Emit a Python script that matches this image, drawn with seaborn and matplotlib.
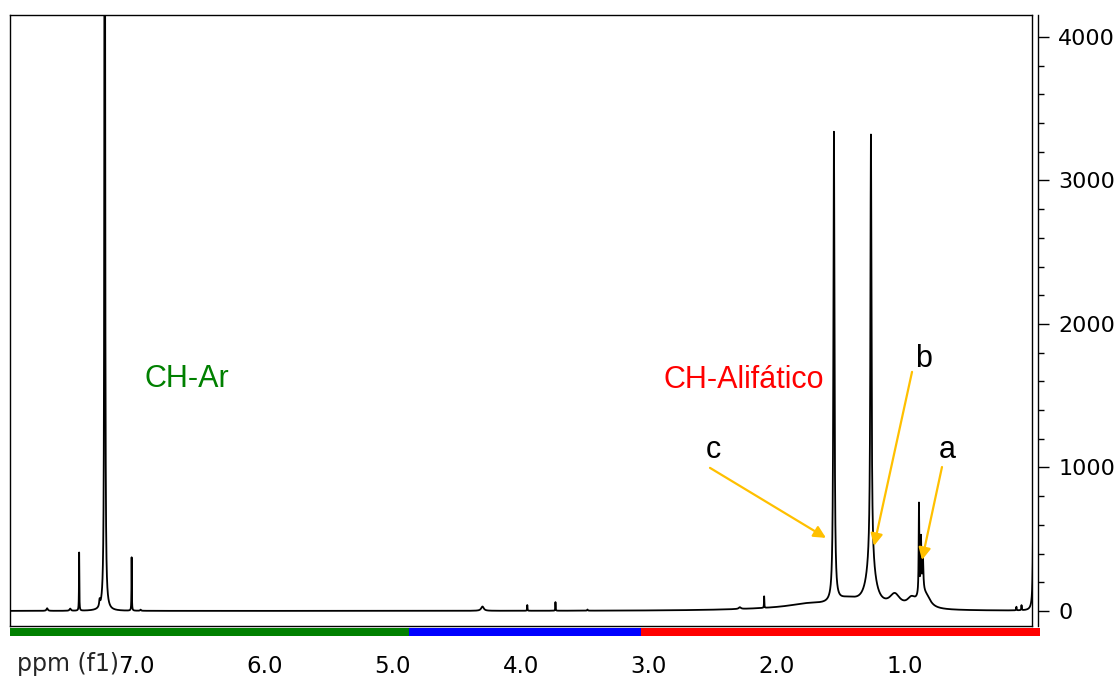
import numpy as np
import pandas as pd
import matplotlib
matplotlib.use('Agg')
import matplotlib.pyplot as plt
import seaborn as sns
from matplotlib.ticker import MultipleLocator, FixedLocator, FixedFormatter

sns.set_style('white')
plt.rcParams['font.family'] = ['DejaVu Sans']

# sharp lines: position (ppm), height, half width (ppm)
peak_ppm = [7.70, 7.52, 7.45, 7.29, 7.25, 7.04, 6.97, 4.30, 3.95, 3.73, 3.48,
            2.29, 2.10, 1.555, 1.266, 0.891, 0.875, 0.860, 0.13, 0.09, -0.005]
peak_height = [18, 15, 405, 45, 9000, 372, 8, 30, 40, 60, 8,
               12, 80, 3274, 2985, 620, 350, 220, 25, 35, 1500]
peak_width = [0.006, 0.006, 0.0015, 0.004, 0.0028, 0.0015, 0.004, 0.012, 0.0015, 0.0015, 0.003,
              0.01, 0.0015, 0.005, 0.005, 0.0025, 0.003, 0.004, 0.002, 0.002, 0.004]

# broad envelope under the aliphatic region
broad_ppm = [2.0, 1.75, 1.45, 1.266, 1.08, 0.95, 0.87, 0.83]
broad_height = [10, 35, 60, 300, 90, 60, 100, 60]
broad_width = [0.5, 0.2, 0.12, 0.04, 0.05, 0.04, 0.03, 0.04]

# coloured bar under the axis
region_start = [7.99, 4.875, 3.064]
region_end = [4.875, 3.064, -0.055]
region_color = ['#008000', '#0000ff', '#ff0000']

# x tick labels
xtick_pos = [7.0, 6.0, 5.0, 4.0, 3.0, 2.0, 1.0, 0.0]
xtick_lab = ['7.0', '6.0', '5.0', '4.0', '3.0', '2.0', '1.0', '']

# annotations: label (ppm, intensity) and arrows tail -> tip
letter_text = ['c', 'b', 'a']
letter_ppm = [2.50, 0.852, 0.668]
letter_int = [1066, 1700, 1066]
arrow_tail_ppm = [2.523, 0.945, 0.711]
arrow_tail_int = [997, 1666, 1003]
arrow_tip_ppm = [1.617, 1.242, 0.867]
arrow_tip_int = [509, 453, 355]

# spectrum from line list
ppm = np.linspace(8.05, -0.08, 80000)
intensity = np.zeros_like(ppm)
for p, h, w in zip(peak_ppm + broad_ppm, peak_height + broad_height, peak_width + broad_width):
    intensity += h / (1 + ((ppm - p) / w) ** 2)
df = pd.DataFrame({'ppm': ppm, 'intensity': intensity})

W, H = 1120, 677
fig = plt.figure(figsize=(W / 100, H / 100), dpi=100)

ax = fig.add_axes([10 / W, 1 - 626 / H, 1022 / W, 611 / H])
sns.lineplot(data=df, x='ppm', y='intensity', ax=ax, color='black', lw=1.3,
             estimator=None, sort=False)
ax.set_xlim(7.99, 0.008)
ax.set_ylim(-105, 4153)
ax.set_xticks([])
ax.set_yticks([])
ax.set_xlabel('')
ax.set_ylabel('')
for s in ax.spines.values():
    s.set_visible(True)
    s.set_color('black')
    s.set_linewidth(1.0)

# y axis on the right, offset from the frame
ay = ax.twinx()
ay.set_ylim(ax.get_ylim())
for k in ['top', 'bottom', 'left']:
    ay.spines[k].set_visible(False)
ay.spines['right'].set_position(('outward', 4))
ay.spines['right'].set_color('black')
ay.spines['right'].set_linewidth(1.0)
ay.yaxis.set_major_locator(MultipleLocator(1000))
ay.yaxis.set_minor_locator(MultipleLocator(200))
ay.tick_params(axis='y', which='major', direction='out', length=8, width=1, pad=7,
               labelsize=16, colors='black')
ay.tick_params(axis='y', which='minor', direction='out', length=4, width=1, colors='black')

# coloured integration bar with the ppm scale under it
ab = fig.add_axes([10 / W, 1 - 636 / H, 1022 / W, 8 / H])
ab.set_xlim(ax.get_xlim())
ab.set_ylim(0, 1)
for x0, x1, c in zip(region_start, region_end, region_color):
    ab.axvspan(x0, x1, color=c, lw=0, clip_on=False)
for s in ab.spines.values():
    s.set_visible(False)
ab.set_yticks([])
ab.xaxis.set_major_locator(FixedLocator(xtick_pos))
ab.xaxis.set_major_formatter(FixedFormatter(xtick_lab))
ab.xaxis.set_minor_locator(MultipleLocator(0.2))
ab.tick_params(axis='x', which='major', direction='out', length=7.5, width=1, pad=6,
               labelsize=16.5, colors='black')
ab.tick_params(axis='x', which='minor', direction='out', length=3, width=1, colors='black')
fig.text(119 / W, 1 - 664 / H, 'ppm (f1)', ha='right', va='center', fontsize=17)

# labels
lab_font = 'Liberation Sans'
ax.text(6.605, 1561, 'CH-Ar', color='#008000', fontsize=22, family=lab_font,
        ha='center', va='baseline')
ax.text(2.258, 1554, 'CH-Alifático', color='#ff0000', fontsize=22, family=lab_font,
        ha='center', va='baseline')
for t, xp, yp in zip(letter_text, letter_ppm, letter_int):
    ax.text(xp, yp, t, color='black', fontsize=22, family=lab_font, ha='center', va='baseline')
for x0, y0, x1, y1 in zip(arrow_tail_ppm, arrow_tail_int, arrow_tip_ppm, arrow_tip_int):
    ax.annotate('', xy=(x1, y1), xytext=(x0, y0),
                arrowprops=dict(arrowstyle='-|>', color='#ffc000', lw=1.6,
                                mutation_scale=18, shrinkA=0, shrinkB=0))

fig.savefig('out.png', dpi=100)
